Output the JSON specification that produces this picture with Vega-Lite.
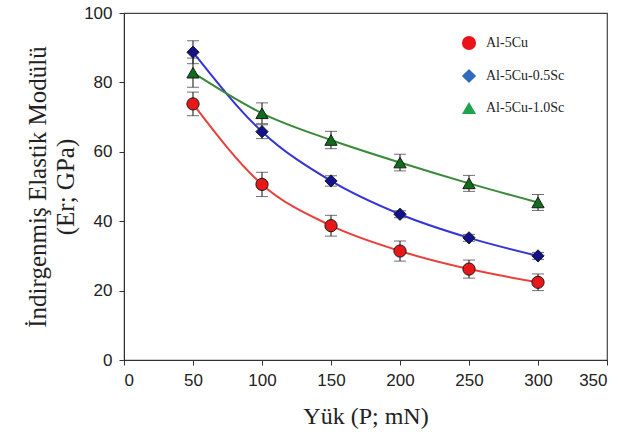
{
  "$schema": "https://vega.github.io/schema/vega-lite/v6.json",
  "width": 483,
  "height": 347,
  "autosize": {"type": "none"},
  "padding": {"left": 124, "top": 13, "right": 34, "bottom": 81},
  "background": "white",
  "config": {
    "view": {"stroke": "#444", "strokeWidth": 1.2},
    "axis": {
      "grid": false,
      "domainColor": "#333",
      "tickColor": "#333",
      "tickSize": 5,
      "labelFont": "Liberation Sans",
      "labelFontSize": 17,
      "labelColor": "#222",
      "titleFont": "Liberation Serif",
      "titleFontWeight": "normal",
      "titleColor": "#222"
    }
  },
  "data": {
    "values": [
      {"series": "Al-5Cu", "load": 50, "er": 73.8, "err": 3.4},
      {"series": "Al-5Cu", "load": 100, "er": 50.6, "err": 3.5},
      {"series": "Al-5Cu", "load": 150, "er": 38.7, "err": 3.0},
      {"series": "Al-5Cu", "load": 200, "er": 31.4, "err": 2.9},
      {"series": "Al-5Cu", "load": 250, "er": 26.2, "err": 2.6},
      {"series": "Al-5Cu", "load": 300, "er": 22.4, "err": 2.4},
      {"series": "Al-5Cu-0.5Sc", "load": 50, "er": 88.7, "err": 3.3},
      {"series": "Al-5Cu-0.5Sc", "load": 100, "er": 65.8, "err": 2.0},
      {"series": "Al-5Cu-0.5Sc", "load": 150, "er": 51.6, "err": 1.5},
      {"series": "Al-5Cu-0.5Sc", "load": 200, "er": 42.0, "err": 1.0},
      {"series": "Al-5Cu-0.5Sc", "load": 250, "er": 35.2, "err": 1.0},
      {"series": "Al-5Cu-0.5Sc", "load": 300, "er": 30.0, "err": 1.0},
      {"series": "Al-5Cu-1.0Sc", "load": 50, "er": 82.8, "err": 4.2},
      {"series": "Al-5Cu-1.0Sc", "load": 100, "er": 71.1, "err": 3.0},
      {"series": "Al-5Cu-1.0Sc", "load": 150, "er": 63.4, "err": 2.5},
      {"series": "Al-5Cu-1.0Sc", "load": 200, "er": 56.9, "err": 2.4},
      {"series": "Al-5Cu-1.0Sc", "load": 250, "er": 50.9, "err": 2.3},
      {"series": "Al-5Cu-1.0Sc", "load": 300, "er": 45.4, "err": 2.3}
    ]
  },
  "encoding": {
    "x": {
      "field": "load", "type": "quantitative",
      "scale": {"domain": [0, 350], "nice": false},
      "axis": {"values": [0, 50, 100, 150, 200, 250, 300, 350], "title": "Yük (P; mN)", "titleFontSize": 24, "labelPadding": 7, "titlePadding": 16}
    },
    "y": {
      "field": "er", "type": "quantitative",
      "scale": {"domain": [0, 100], "nice": false},
      "axis": {"values": [0, 20, 40, 60, 80, 100], "title": ["İndirgenmiş Elastik Modülü", "(Er; GPa)"], "titleFontSize": 25, "titleLineHeight": 28, "labelPadding": 7, "titlePadding": 5}
    }
  },
  "layer": [
    {
      "mark": {"type": "line", "interpolate": "monotone", "strokeWidth": 2},
      "encoding": {
        "color": {
          "field": "series", "type": "nominal",
          "scale": {"domain": ["Al-5Cu", "Al-5Cu-0.5Sc", "Al-5Cu-1.0Sc"], "range": ["#e8403a", "#3434d4", "#3a8a3a"]},
          "legend": null
        }
      }
    },
    {
      "mark": {"type": "errorbar", "ticks": {"size": 12, "color": "#333"}, "rule": {"color": "#333", "strokeWidth": 1.2}},
      "encoding": {
        "yError": {"field": "err"}
      }
    },
    {
      "mark": {"type": "point", "filled": true, "size": 150, "opacity": 1, "stroke": "#1a1a1a", "strokeWidth": 1},
      "encoding": {
        "fill": {
          "field": "series", "type": "nominal",
          "scale": {"domain": ["Al-5Cu", "Al-5Cu-0.5Sc", "Al-5Cu-1.0Sc"], "range": ["#e81818", "#12128c", "#0f6e1c"]},
          "legend": null
        },
        "shape": {
          "field": "series", "type": "nominal",
          "scale": {"domain": ["Al-5Cu", "Al-5Cu-0.5Sc", "Al-5Cu-1.0Sc"], "range": ["circle", "diamond", "triangle-up"]},
          "legend": null
        }
      }
    },
    {
      "mark": {"type": "point", "filled": true, "size": 150, "opacity": 0, "stroke": "#1a1a1a", "strokeWidth": 1},
      "encoding": {
        "fill": {
          "field": "series", "type": "nominal",
          "scale": {"domain": ["Al-5Cu", "Al-5Cu-0.5Sc", "Al-5Cu-1.0Sc"], "range": ["#e8131b", "#2e6bbf", "#1fa34a"]},
          "legend": {
            "title": null, "orient": "none", "legendX": 337, "legendY": 22,
            "symbolOpacity": 1, "symbolSize": 200, "symbolStrokeColor": "#222", "symbolStrokeWidth": 1,
            "labelFont": "Liberation Serif", "labelFontSize": 14, "labelColor": "#222",
            "rowPadding": 13, "labelOffset": 9
          }
        },
        "shape": {
          "field": "series", "type": "nominal",
          "scale": {"domain": ["Al-5Cu", "Al-5Cu-0.5Sc", "Al-5Cu-1.0Sc"], "range": ["circle", "diamond", "triangle-up"]},
          "legend": {
            "title": null, "orient": "none", "legendX": 337, "legendY": 22,
            "symbolOpacity": 1, "symbolSize": 200, "symbolStrokeColor": "#222", "symbolStrokeWidth": 1,
            "labelFont": "Liberation Serif", "labelFontSize": 14, "labelColor": "#222",
            "rowPadding": 13, "labelOffset": 9
          }
        }
      }
    }
  ],
  "resolve": {"scale": {"fill": "independent", "shape": "independent"}}
}
